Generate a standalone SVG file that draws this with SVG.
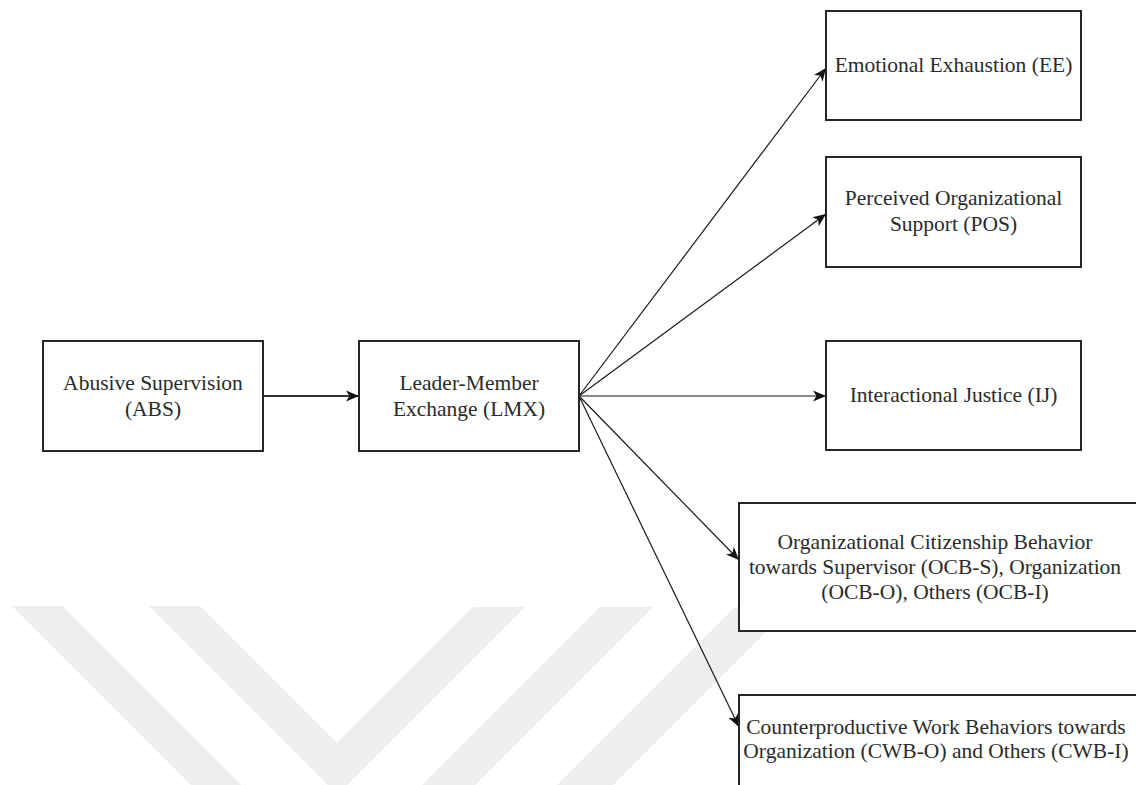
<svg xmlns="http://www.w3.org/2000/svg" width="1136" height="785" viewBox="0 0 1136 785">
  <style>
    .box { fill: #ffffff; stroke: #262626; stroke-width: 2; }
    .lbl { font-family: "Liberation Serif", "Times New Roman", serif; font-size: 21.5px; fill: #2b2b2b; text-anchor: middle; }
    .edge { fill: none; stroke: #1a1a1a; stroke-width: 1.2; }
    .edge-thick { fill: none; stroke: #333333; stroke-width: 2.2; }
    .wm { fill: #eeeeee; stroke: none; }
  </style>
  <defs>
    <marker id="arrow" markerUnits="userSpaceOnUse" markerWidth="14" markerHeight="12" refX="13" refY="6" orient="auto">
      <path d="M0,0.5 L13,6 L0,11.5 L3.5,6 Z" fill="#111111"/>
    </marker>
  </defs>
  <rect x="0" y="0" width="1136" height="785" fill="#ffffff"/>

  <g id="watermark">
    <polygon class="wm" points="12,606 62,606 241,785 191,785"/>
    <polygon class="wm" points="149,606 200,606 337,743 473,607 525,607 347,785 328,785"/>
    <polygon class="wm" points="600,607 653,607 475,785 422,785"/>
    <polygon class="wm" points="735,607 791,607 613,785 557,785"/>
  </g>

  <g id="connectors">
    <line class="edge-thick" x1="263" y1="396" x2="359" y2="396" marker-end="url(#arrow)"/>
    <line class="edge" x1="579" y1="396" x2="826" y2="68" marker-end="url(#arrow)"/>
    <line class="edge" x1="579" y1="396" x2="826" y2="214" marker-end="url(#arrow)"/>
    <line class="edge" x1="579" y1="396" x2="826" y2="396" marker-end="url(#arrow)"/>
    <line class="edge" x1="579" y1="396" x2="739" y2="560" marker-end="url(#arrow)"/>
    <line class="edge" x1="579" y1="396" x2="739" y2="727" marker-end="url(#arrow)"/>
  </g>

  <g id="node-abs">
    <rect class="box" x="43" y="341" width="220" height="110"/>
    <text class="lbl" x="153" y="390">Abusive Supervision</text>
    <text class="lbl" x="153" y="416">(ABS)</text>
  </g>

  <g id="node-lmx">
    <rect class="box" x="359" y="341" width="220" height="110"/>
    <text class="lbl" x="469" y="390">Leader-Member</text>
    <text class="lbl" x="469" y="416">Exchange (LMX)</text>
  </g>

  <g id="node-ee">
    <rect class="box" x="826" y="11" width="255" height="109"/>
    <text class="lbl" x="953.5" y="72">Emotional Exhaustion (EE)</text>
  </g>

  <g id="node-pos">
    <rect class="box" x="826" y="157" width="255" height="110"/>
    <text class="lbl" x="953.5" y="205">Perceived Organizational</text>
    <text class="lbl" x="953.5" y="231">Support (POS)</text>
  </g>

  <g id="node-ij">
    <rect class="box" x="826" y="341" width="255" height="109"/>
    <text class="lbl" x="953.5" y="402">Interactional Justice (IJ)</text>
  </g>

  <g id="node-ocb">
    <rect class="box" x="739" y="503" width="402" height="128"/>
    <text class="lbl" x="935" y="549">Organizational Citizenship Behavior</text>
    <text class="lbl" x="935" y="574">towards Supervisor (OCB-S), Organization</text>
    <text class="lbl" x="935" y="599">(OCB-O), Others (OCB-I)</text>
  </g>

  <g id="node-cwb">
    <rect class="box" x="739" y="695" width="402" height="100"/>
    <text class="lbl" x="936" y="734">Counterproductive Work Behaviors towards</text>
    <text class="lbl" x="936" y="758">Organization (CWB-O) and Others (CWB-I)</text>
  </g>
</svg>
